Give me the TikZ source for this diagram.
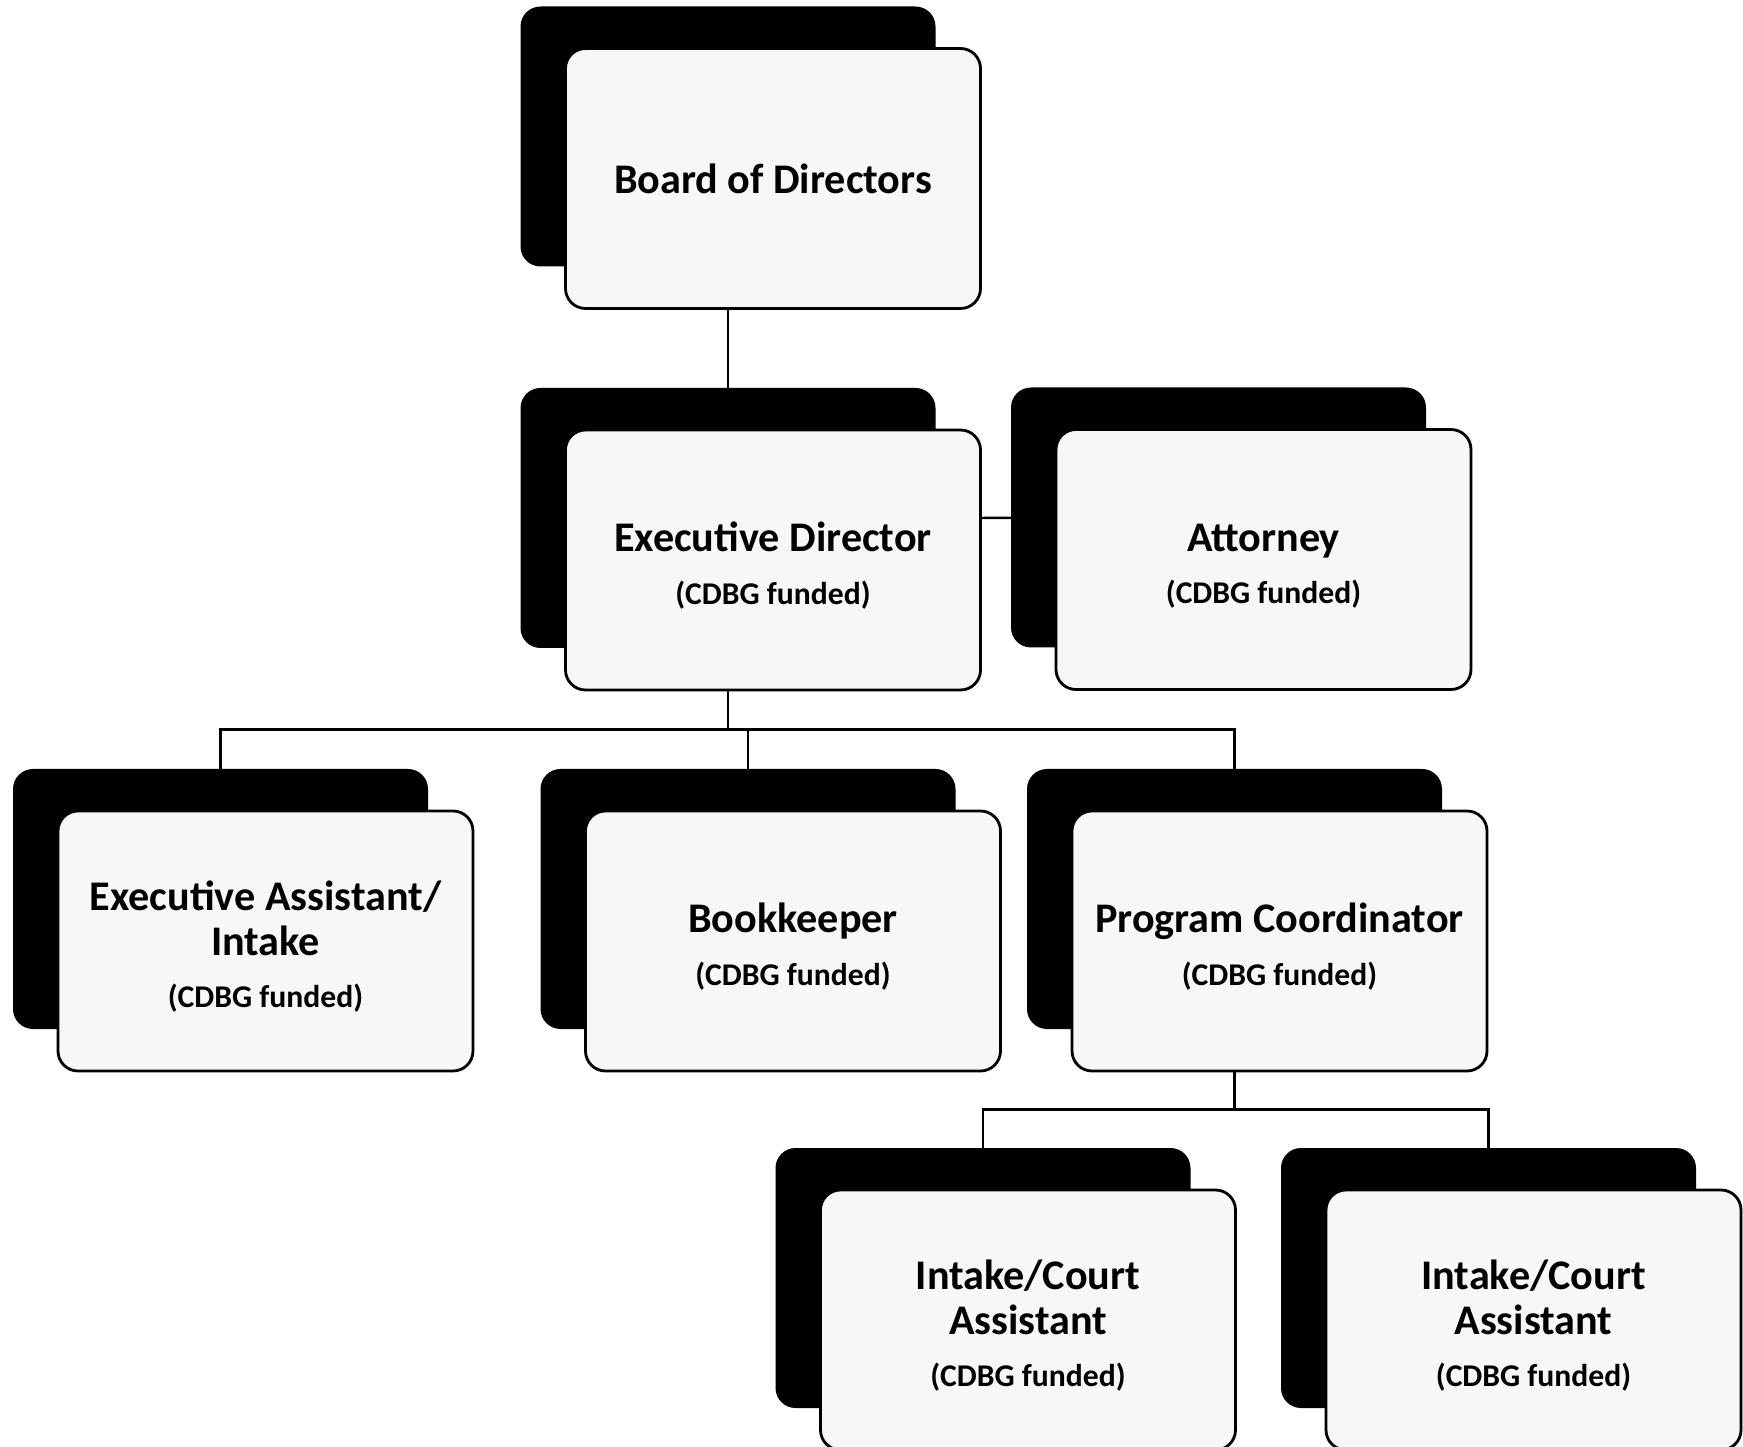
\documentclass[tikz,border=0pt]{standalone}
\usepackage{fontspec}
\setmainfont{Carlito}
\usetikzlibrary{shadows,backgrounds}
\definecolor{postfill}{RGB}{247,247,247}
\newcommand{\topgap}{\rule{0pt}{11.6pt}}

\tikzset{
  post/.style={draw=black, line width=0.8pt, fill=postfill, rounded corners=0.2cm,
    minimum width=4.15cm, minimum height=2.6cm, inner sep=0pt, align=center,
    font=\fontsize{12}{12.7}\selectfont\bfseries,
    general shadow={fill=black, shadow xshift=-0.45cm, shadow yshift=0.42cm}},
  link/.style={draw=black, line width=0.7pt}
}

\begin{document}
\begin{tikzpicture}
  \useasboundingbox (0,0) rectangle (17.43,-14.47);

  % top
  \node[post] (board) at (7.73,-1.785) {Board of Directors};

  % second row
  \node[post] (exec) at (7.73,-5.60) {\topgap Executive Director\\[2.2pt]{\fontsize{9}{12.7}\selectfont (CDBG funded)}};
  \node[post] (att) at (12.635,-5.595) {\topgap Attorney\\[2.2pt]{\fontsize{9}{12.7}\selectfont (CDBG funded)}};

  % third row
  \node[post] (asst) at (2.655,-9.41) {\topgap Executive Assistant/\\Intake\\[2.2pt]{\fontsize{9}{12.7}\selectfont (CDBG funded)}};
  \node[post] (book) at (7.93,-9.41) {\topgap Bookkeeper\\[2.2pt]{\fontsize{9}{12.7}\selectfont (CDBG funded)}};
  \node[post] (prog) at (12.795,-9.41) {\topgap Program Coordinator\\[2.2pt]{\fontsize{9}{12.7}\selectfont (CDBG funded)}};

  % bottom row
  \node[post] (court1) at (10.28,-13.20) {\topgap Intake/Court\\Assistant\\[2.2pt]{\fontsize{9}{12.7}\selectfont (CDBG funded)}};
  \node[post] (court2) at (15.335,-13.20) {\topgap Intake/Court\\Assistant\\[2.2pt]{\fontsize{9}{12.7}\selectfont (CDBG funded)}};

  % connectors behind the boxes
  \begin{scope}[on background layer]
    \draw[link] ([xshift=-0.45cm]board.south) -- ([xshift=-0.45cm]exec.north);
    \draw[link] ([yshift=0.42cm]exec.east) -- ([yshift=0.42cm]att.west);
    \coordinate (busA) at ([xshift=-0.45cm,yshift=-0.38cm]exec.south);
    \draw[link] ([xshift=-0.45cm]exec.south) -- (busA);
    \foreach \n in {asst,book,prog}
      \draw[link] (busA) -| ([xshift=-0.45cm]\n.north);
    \coordinate (busB) at ([xshift=-0.45cm,yshift=-0.37cm]prog.south);
    \draw[link] ([xshift=-0.45cm]prog.south) -- (busB);
    \foreach \n in {court1,court2}
      \draw[link] (busB) -| ([xshift=-0.45cm]\n.north);
  \end{scope}
\end{tikzpicture}
\end{document}
